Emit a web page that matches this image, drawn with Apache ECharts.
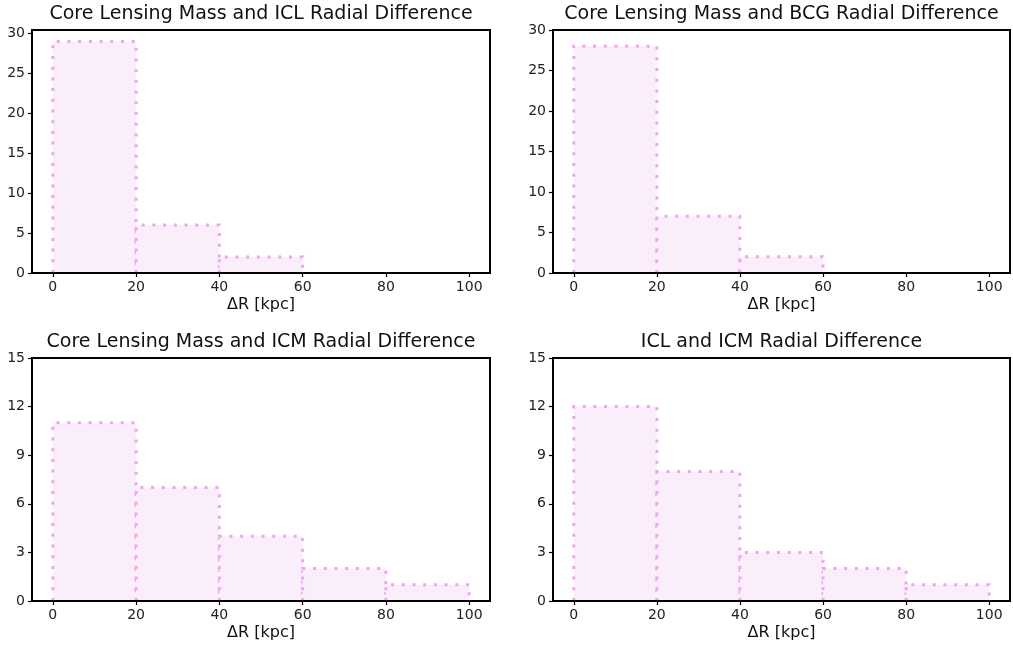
<!DOCTYPE html>
<html>
<head>
<meta charset="utf-8">
<script src="https://cdn.jsdelivr.net/npm/echarts@6/dist/echarts.min.js"></script>
<style>
  html, body { margin: 0; padding: 0; background: #fff; }
  #chart { width: 1013px; height: 647px; }
</style>
</head>
<body>
<div id="chart"></div>
<script>
// Histogram bin edges (kpc) shared by all four panels
const binEdges = [0, 20, 40, 60, 80, 100];

// Counts per bin
const countsCoreICL = [29, 6, 2, 0, 0];
const countsCoreBCG = [28, 7, 2, 0, 0];
const countsCoreICM = [11, 7, 4, 2, 1];
const countsICLICM = [12, 8, 3, 2, 1];

const panelTitles = [
  'Core Lensing Mass and ICL Radial Difference',
  'Core Lensing Mass and BCG Radial Difference',
  'Core Lensing Mass and ICM Radial Difference',
  'ICL and ICM Radial Difference'
];

// Tick labels
const xTicks = [0, 20, 40, 60, 80, 100];
const yTicksTop = [0, 5, 10, 15, 20, 25, 30];
const yTicksBottom = [0, 3, 6, 9, 12, 15];
const yLimits = [30.45, 30, 15, 15];

const xLabel = 'ΔR [kpc]';

const panels = [
  { counts: countsCoreICL, yTicks: yTicksTop },
  { counts: countsCoreBCG, yTicks: yTicksTop },
  { counts: countsCoreICM, yTicks: yTicksBottom },
  { counts: countsICLICM, yTicks: yTicksBottom }
];

const gridRects = [
  { left: 32, top: 30, width: 458, height: 243 },
  { left: 553, top: 30, width: 457, height: 243 },
  { left: 32, top: 358, width: 458, height: 243 },
  { left: 553, top: 358, width: 457, height: 243 }
];

const FONT = 'DejaVu Sans';
const EDGE = '#f0a4f0';
const FILL = '#fbeefb';

const chart = echarts.init(document.getElementById('chart'), null, { renderer: 'canvas' });

const grids = [], xAxes = [], yAxes = [], series = [], titles = [];

panels.forEach((p, i) => {
  const g = gridRects[i];
  grids.push(Object.assign({
    show: true, borderColor: '#000', borderWidth: 2, backgroundColor: '#fff', containLabel: false
  }, g));

  titles.push({
    text: panelTitles[i],
    left: g.left + g.width / 2,
    top: g.top - 25,
    textAlign: 'center',
    padding: 0,
    textStyle: { fontFamily: FONT, fontSize: 19, fontWeight: 'normal', color: '#111' }
  });

  xAxes.push({
    type: 'value', gridIndex: i, min: -5, max: 105, z: 10,
    splitLine: { show: false },
    axisLine: { show: true, onZero: false, lineStyle: { color: '#000', width: 2 } },
    axisTick: { show: true, length: 4, customValues: xTicks, lineStyle: { color: '#000', width: 1.2 } },
    axisLabel: { customValues: xTicks, margin: 7, fontFamily: FONT, fontSize: 14, color: '#222' },
    name: xLabel, nameLocation: 'middle', nameGap: 24,
    nameTextStyle: { fontFamily: FONT, fontSize: 16, color: '#111' }
  });

  yAxes.push({
    type: 'value', gridIndex: i, min: 0, max: yLimits[i], z: 10,
    splitLine: { show: false },
    axisLine: { show: true, onZero: false, lineStyle: { color: '#000', width: 2 } },
    axisTick: { show: true, length: 4, customValues: p.yTicks, lineStyle: { color: '#000', width: 1.2 } },
    axisLabel: { customValues: p.yTicks, margin: 7, fontFamily: FONT, fontSize: 14, color: '#222' }
  });

  // one row per bin: [left edge, right edge, count]
  const data = p.counts.map((c, k) => [binEdges[k], binEdges[k + 1], c]);

  series.push({
    type: 'custom', xAxisIndex: i, yAxisIndex: i, data: data,
    encode: { x: [0, 1], y: 2 },
    renderItem: function (params, api) {
      const v = api.value(2);
      if (!v) return null;
      const p0 = api.coord([api.value(0), 0]);
      const p1 = api.coord([api.value(1), v]);
      return {
        type: 'group',
        children: [
          {
            type: 'rect',
            shape: { x: p0[0], y: p1[1], width: p1[0] - p0[0], height: p0[1] - p1[1] },
            style: { fill: FILL, stroke: null }
          },
          {
            type: 'polyline',
            shape: { points: [[p0[0], p0[1]], [p0[0], p1[1]], [p1[0], p1[1]], [p1[0], p0[1]]] },
            style: { fill: null, stroke: EDGE, lineWidth: 3, lineDash: [3, 7.7], lineCap: 'butt' }
          }
        ]
      };
    }
  });
});

chart.setOption({
  animation: false,
  backgroundColor: '#fff',
  title: titles,
  grid: grids,
  xAxis: xAxes,
  yAxis: yAxes,
  series: series
});
</script>
</body>
</html>
